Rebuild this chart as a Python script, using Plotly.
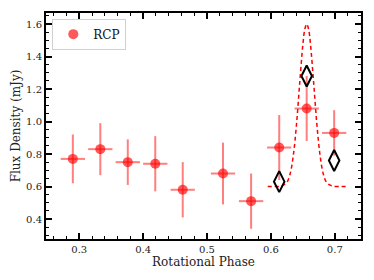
import plotly.graph_objects as go

# Data
phase = [0.290, 0.333, 0.376, 0.419, 0.462, 0.525, 0.569, 0.613, 0.656, 0.699]
flux = [0.77, 0.83, 0.75, 0.74, 0.58, 0.68, 0.51, 0.84, 1.08, 0.93]
flux_err = [0.15, 0.16, 0.14, 0.17, 0.17, 0.19, 0.17, 0.20, 0.20, 0.14]
phase_err = [0.019] * 10

model_phase = [0.613, 0.656, 0.699]
model_flux = [0.63, 1.28, 0.76]

curve_x = [0.595, 0.605, 0.615, 0.620, 0.625, 0.630, 0.635, 0.640, 0.645, 0.650, 0.653,
           0.656, 0.659, 0.662, 0.667, 0.672, 0.677, 0.682, 0.687, 0.692, 0.697, 0.707, 0.718]
curve_y = [0.600, 0.600, 0.602, 0.610, 0.626, 0.677, 0.789, 0.980, 1.233, 1.473, 1.567,
           1.600, 1.567, 1.473, 1.233, 0.980, 0.789, 0.677, 0.626, 0.610, 0.602, 0.600, 0.600]

x_ticks = [0.3, 0.4, 0.5, 0.6, 0.7]
y_ticks = [0.4, 0.6, 0.8, 1.0, 1.2, 1.4, 1.6]

FONT = "DejaVu Serif"

fig = go.Figure()
fig.add_trace(go.Scatter(
    x=curve_x, y=curve_y, mode="lines", showlegend=False,
    line=dict(color="red", width=1.5, dash="4px,3px", shape="spline"),
))
fig.add_trace(go.Scatter(
    x=phase, y=flux, mode="markers", name="RCP",
    marker=dict(color="rgba(255,0,0,0.65)", size=10, line=dict(width=0)),
    error_y=dict(type="data", array=flux_err, color="rgba(255,40,40,0.6)", thickness=2, width=0),
    error_x=dict(type="data", array=phase_err, color="rgba(255,40,40,0.6)", thickness=2, width=0),
))
fig.add_trace(go.Scatter(
    x=model_phase, y=model_flux, mode="markers", showlegend=False,
    marker=dict(symbol="diamond-tall-open", color="black", size=15, line=dict(width=2, color="black")),
))

axis_common = dict(
    showgrid=False, zeroline=False, showline=True, linecolor="black", linewidth=2,
    mirror="allticks", ticks="inside", ticklen=6, tickwidth=1.5, tickcolor="black",
    tickfont=dict(family=FONT, size=10, color="#222"), automargin=False,
)
fig.update_xaxes(
    **axis_common, range=[0.248, 0.741], tickvals=x_ticks,
    ticktext=[f"{v:.1f}" for v in x_ticks],
    minor=dict(dtick=0.02, tick0=0.0, ticks="inside", ticklen=3, tickwidth=1, tickcolor="black"),
    title=dict(text="Rotational Phase", font=dict(family=FONT, size=12, color="#222"), standoff=2),
)
fig.update_yaxes(
    **axis_common, range=[0.277, 1.668], tickvals=y_ticks,
    ticktext=[f"{v:.1f}" for v in y_ticks],
    minor=dict(dtick=0.05, tick0=0.0, ticks="inside", ticklen=3, tickwidth=1, tickcolor="black"),
    title=dict(text="Flux Density (mJy)", font=dict(family=FONT, size=12, color="#222"), standoff=3),
)
fig.update_layout(
    width=374, height=280,
    margin=dict(l=38, r=21, t=5, b=49, autoexpand=False),
    paper_bgcolor="white", plot_bgcolor="white",
    font=dict(family=FONT),
    legend=dict(x=0.02, y=0.975, xanchor="left", yanchor="top",
                bgcolor="rgba(255,255,255,0.8)", bordercolor="#d0d0d0", borderwidth=1,
                font=dict(family=FONT, size=12, color="#111"), itemwidth=30),
)
fig.write_html("out.html")
